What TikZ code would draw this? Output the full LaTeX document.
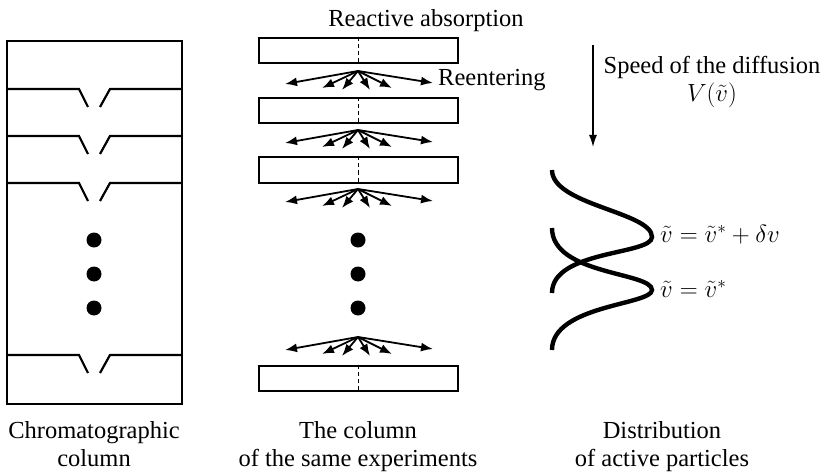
\documentclass[tikz,border=0pt]{standalone}
\usepackage{fontspec}
\setmainfont{Liberation Serif}
\usepackage{tikz}
\usetikzlibrary{arrows.meta}
\newcommand{\vt}{\tilde{v}}

\begin{document}
\begin{tikzpicture}[x=1pt, y=-1pt,
    txt/.style={font=\fontsize{24.5}{28}\selectfont, inner sep=0pt},
    mathtxt/.style={font=\fontsize{27}{30}\selectfont, inner sep=0pt},
    tray/.style={draw, line width=2pt, minimum width=199pt, minimum height=25pt, inner sep=0pt},
    fan/.style={line width=1.8pt, -{Latex[length=12pt,width=9pt]}},
    plate/.style={line width=2.2pt},
    peak/.style={line width=4.4pt}]
  \useasboundingbox (0,0) rectangle (830,476);

  % 1. Chromatographic column with plates
  \draw[plate] (7,41) rectangle (182,404);
  \foreach \y in {89,136,183,355} {
    \draw[plate] (7,\y) -- (79,\y) -- (88,\y+18);
    \draw[plate] (100,\y+18) -- (110,\y) -- (182,\y);
  }
  \foreach \y in {240,274,308}
    \fill (94,\y) circle (7.5pt);

  % 2. Trays of the same experiments
  \foreach \i/\y in {1/50.5, 2/110.5, 3/170, 4/378.5} {
    \node[tray] (tray\i) at (358.5,\y) {};
    \draw[line width=1.8pt, dash pattern=on 4pt off 3pt] (tray\i.north) -- (tray\i.south);
  }

  % 3. Fans of reentering particles
  \foreach \i/\y in {1/71, 2/130, 3/189, 4/337} {
    \coordinate (src\i) at (358,\y);
    \foreach \dx/\dy [count=\j] in {-73/13, -36/17, -16/19, 12/19, 34/17, 75/12} {
      \path (src\i) ++(\dx,\dy) coordinate (tip\i-\j);
      \draw[fan] (src\i) -- (tip\i-\j);
    }
  }
  \foreach \y in {240,274,308}
    \fill (358,\y) circle (7.5pt);

  \node[txt, anchor=base] (absorb) at (426,27) {Reactive absorption};
  \node[txt, anchor=base west] (reenter) at (438,86) {Reentering};

  % 4. Speed of the diffusion
  \coordinate (speedtop) at (593,45);
  \coordinate (speedbot) at (593,147);
  \draw[line width=1.4pt, -{Latex[length=12pt,width=8pt]}] (speedtop) -- (speedbot);
  \node[txt, align=center, anchor=north] (speed) at (712,56) {Speed of the diffusion\\$V(\vt)$};

  % 5. Distribution curves
  \draw[peak] (552,170) .. controls (552,205) and (652,212) .. (652,237)
    .. controls (652,255) and (552,250) .. (552,293);
  \draw[peak] (552,228) .. controls (552,275) and (652,272) .. (652,290)
    .. controls (652,305) and (552,305) .. (552,350);
  \node[mathtxt, anchor=west] (shifted) at (660,235) {$\vt=\vt^{*}+\delta v$};
  \node[mathtxt, anchor=west] (centre) at (660,289) {$\vt=\vt^{*}$};

  % 6. Captions
  \node[txt, align=center, anchor=north] (capcol) at (94,421) {Chromatographic\\column};
  \node[txt, align=center, anchor=north] (capexp) at (358,421) {The column\\of the same experiments};
  \node[txt, align=center, anchor=north] (capdist) at (662,421) {Distribution\\of active particles};
\end{tikzpicture}
\end{document}
